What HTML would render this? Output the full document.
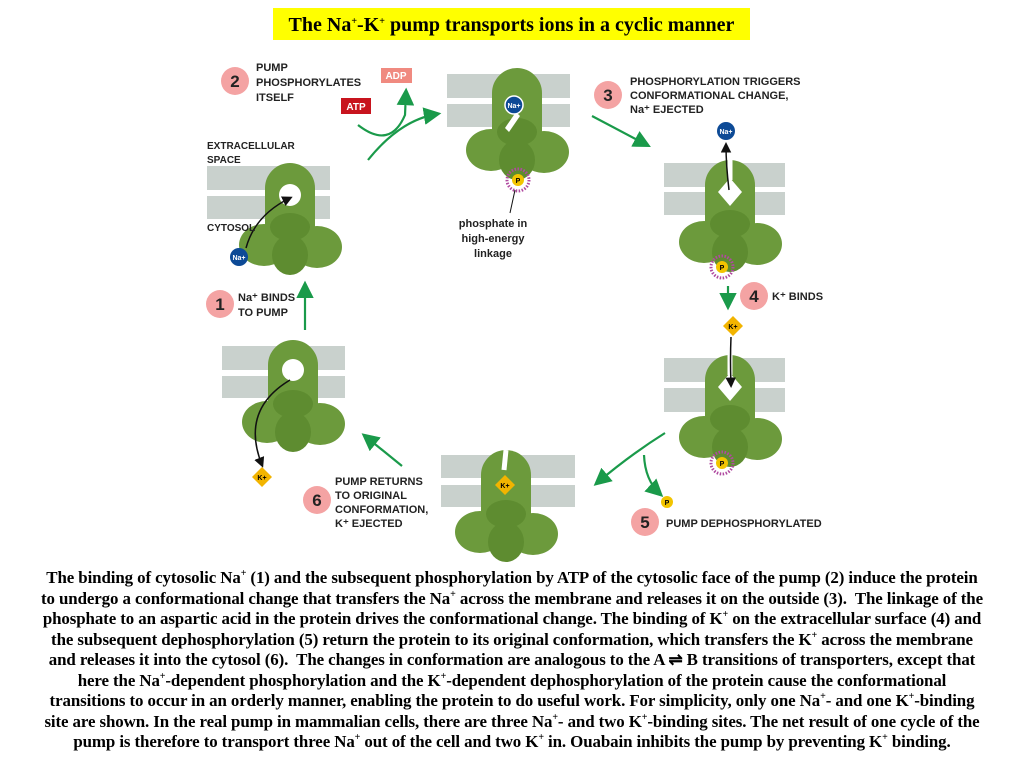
<!DOCTYPE html>
<html><head><meta charset="utf-8"><style>
body{margin:0;width:1024px;height:768px;background:#fff;position:relative;overflow:hidden;font-family:"Liberation Serif",serif}
.title{position:absolute;left:273px;top:8px;width:477px;height:32px;background:#ffff00;font-weight:bold;font-size:20px;text-align:center;line-height:34px;white-space:nowrap}
.para{position:absolute;left:0;top:568px;width:1024px;text-align:center;font-weight:bold;font-size:16.9px;line-height:20.5px;white-space:nowrap;letter-spacing:-0.1px}
sup{font-size:10px;line-height:0;vertical-align:0;position:relative;top:-7px}
svg{position:absolute;left:0;top:0}
.lb{font-family:"Liberation Sans",sans-serif;font-weight:bold;font-size:11px;fill:#222}
.num{font-family:"Liberation Sans",sans-serif;font-weight:bold;font-size:17px;fill:#222}
</style></head><body>
<div class="title">The Na<sup>+</sup>-K<sup>+</sup> pump transports ions in a cyclic manner</div>
<svg width="1024" height="768" viewBox="0 0 1024 768">
<defs>
<g id="prot">
<rect x="-25" y="0" width="50" height="95" rx="25" fill="#6c9a3c"/>
<ellipse cx="-26" cy="82" rx="25" ry="21" fill="#6c9a3c"/>
<ellipse cx="27" cy="84" rx="25" ry="21" fill="#6c9a3c"/>
<ellipse cx="0" cy="92" rx="18" ry="20" fill="#5e8c30"/>
<ellipse cx="0" cy="64" rx="20" ry="14" fill="#5e8c30"/>
</g>
<marker id="ag" markerWidth="8" markerHeight="8" refX="6" refY="4" orient="auto"><path d="M0,0 L8,4 L0,8z" fill="#1a9a4a"/></marker>
<marker id="ak" markerWidth="7" markerHeight="7" refX="5" refY="3.5" orient="auto"><path d="M0,0 L7,3.5 L0,7z" fill="#111"/></marker>
</defs>
<g fill="#c9d1cd">
<rect x="207" y="166" width="123" height="24"/><rect x="207" y="196" width="123" height="23"/>
<rect x="447" y="74" width="123" height="24"/><rect x="447" y="104" width="123" height="23"/>
<rect x="664" y="163" width="121" height="24"/><rect x="664" y="192" width="121" height="23"/>
<rect x="664" y="358" width="121" height="24"/><rect x="664" y="388" width="121" height="24"/>
<rect x="441" y="455" width="134" height="23"/><rect x="441" y="485" width="134" height="22"/>
<rect x="222" y="346" width="123" height="24"/><rect x="222" y="376" width="123" height="22"/>
</g>
<use href="#prot" x="290" y="163"/><circle cx="290" cy="195" r="11" fill="#fff"/>
<use href="#prot" x="517" y="68"/><path d="M505,128 L516,112 L520,116 L509,132z" fill="#fff"/>
<use href="#prot" x="730" y="160"/><path d="M730,178 L742,192 L730,206 L718,192z" fill="#fff"/><path d="M730,160 L730,180" stroke="#fff" stroke-width="5"/>
<use href="#prot" x="730" y="355"/><path d="M730,373 L742,387 L730,401 L718,387z" fill="#fff"/><path d="M730,355 L730,375" stroke="#fff" stroke-width="5"/>
<use href="#prot" x="506" y="450"/><path d="M506,450 L504,470" stroke="#fff" stroke-width="5"/>
<use href="#prot" x="293" y="340"/><circle cx="293" cy="370" r="11" fill="#fff"/>
<circle cx="514" cy="105" r="9" fill="#0d4a96" stroke="#fff" stroke-width="1.5"/><text x="514" y="108" font-size="7" fill="#fff" text-anchor="middle" font-family="Liberation Sans" font-weight="bold">Na+</text>
<circle cx="239" cy="257" r="9" fill="#0d4a96"/><text x="239" y="260" font-size="7" fill="#fff" text-anchor="middle" font-family="Liberation Sans" font-weight="bold">Na+</text>
<circle cx="726" cy="131" r="9" fill="#0d4a96"/><text x="726" y="134" font-size="7" fill="#fff" text-anchor="middle" font-family="Liberation Sans" font-weight="bold">Na+</text>
<g font-size="7" font-family="Liberation Sans" font-weight="bold" text-anchor="middle">
<path d="M733,316 L743,326 L733,336 L723,326z" fill="#f2b400"/><text x="733" y="329">K+</text>
<path d="M262,467 L272,477 L262,487 L252,477z" fill="#f2b400"/><text x="262" y="480">K+</text>
<path d="M505,475 L515,485 L505,495 L495,485z" fill="#f2b400"/><text x="505" y="488">K+</text>
</g>
<g font-size="7" font-family="Liberation Sans" font-weight="bold" text-anchor="middle">
<circle cx="518" cy="180" r="11" fill="none" stroke="#b04aa0" stroke-dasharray="1.5 1.5" stroke-width="3"/><circle cx="518" cy="180" r="6" fill="#f2c400"/><text x="518" y="183">P</text>
<circle cx="722" cy="267" r="11" fill="none" stroke="#b04aa0" stroke-dasharray="1.5 1.5" stroke-width="3"/><circle cx="722" cy="267" r="6" fill="#f2c400"/><text x="722" y="270">P</text>
<circle cx="722" cy="463" r="11" fill="none" stroke="#b04aa0" stroke-dasharray="1.5 1.5" stroke-width="3"/><circle cx="722" cy="463" r="6" fill="#f2c400"/><text x="722" y="466">P</text>
<circle cx="667" cy="502" r="6" fill="#f2c400"/><text x="667" y="505">P</text>
</g>
<path d="M246,248 Q255,215 290,198" stroke="#111" stroke-width="1.5" fill="none" marker-end="url(#ak)"/>
<path d="M729,190 Q726,165 726,145" stroke="#111" stroke-width="1.5" fill="none" marker-end="url(#ak)"/>
<path d="M731,337 Q730,360 731,385" stroke="#111" stroke-width="1.5" fill="none" marker-end="url(#ak)"/>
<path d="M290,380 Q240,410 262,465" stroke="#111" stroke-width="1.5" fill="none" marker-end="url(#ak)"/>
<path d="M515,190 L510,213" stroke="#111" stroke-width="1"/>
<g stroke="#1a9a4a" stroke-width="2.2" fill="none">
<path d="M368,160 Q400,120 437,114" marker-end="url(#ag)"/>
<path d="M358,125 Q390,150 405,115 L406,92" marker-end="url(#ag)"/>
<path d="M592,116 L647,145" marker-end="url(#ag)"/>
<path d="M728,286 L728,306" marker-end="url(#ag)"/>
<path d="M665,433 Q630,455 597,483" marker-end="url(#ag)"/>
<path d="M644,455 Q645,480 660,494" marker-end="url(#ag)"/>
<path d="M402,466 L365,436" marker-end="url(#ag)"/>
<path d="M305,330 L305,285" marker-end="url(#ag)"/>
</g>
<rect x="381" y="68" width="31" height="15" fill="#f08a80"/><text x="396" y="79" font-size="10" fill="#fff" font-weight="bold" font-family="Liberation Sans" text-anchor="middle">ADP</text>
<rect x="341" y="98" width="30" height="16" fill="#c8141e"/><text x="356" y="110" font-size="10" fill="#fff" font-weight="bold" font-family="Liberation Sans" text-anchor="middle">ATP</text>
<g fill="#f4a3a3">
<circle cx="235" cy="81" r="14"/><circle cx="608" cy="95" r="14"/><circle cx="754" cy="296" r="14"/>
<circle cx="645" cy="522" r="14"/><circle cx="317" cy="500" r="14"/><circle cx="220" cy="304" r="14"/>
</g>
<g class="num" text-anchor="middle">
<text x="235" y="87">2</text><text x="608" y="101">3</text><text x="754" y="302">4</text>
<text x="645" y="528">5</text><text x="317" y="506">6</text><text x="220" y="310">1</text>
</g>
<g class="lb">
<text x="256" y="71">PUMP</text><text x="256" y="86">PHOSPHORYLATES</text><text x="256" y="101">ITSELF</text>
<text x="630" y="85">PHOSPHORYLATION TRIGGERS</text><text x="630" y="99">CONFORMATIONAL CHANGE,</text><text x="630" y="113">Na⁺ EJECTED</text>
<text x="772" y="300">K⁺ BINDS</text>
<text x="666" y="527">PUMP DEPHOSPHORYLATED</text>
<text x="335" y="485">PUMP RETURNS</text><text x="335" y="499">TO ORIGINAL</text><text x="335" y="513">CONFORMATION,</text><text x="335" y="527">K⁺ EJECTED</text>
<text x="238" y="301">Na⁺ BINDS</text><text x="238" y="316">TO PUMP</text>
<text x="207" y="149" font-size="10">EXTRACELLULAR</text><text x="207" y="163" font-size="10">SPACE</text>
<text x="207" y="231" font-size="10">CYTOSOL</text>
</g>
<g font-family="Liberation Sans" font-weight="bold" font-size="11" fill="#222" text-anchor="middle">
<text x="493" y="227">phosphate in</text><text x="493" y="242">high-energy</text><text x="493" y="257">linkage</text>
</g>
</svg>
<div class="para">The binding of cytosolic Na<sup>+</sup> (1) and the subsequent phosphorylation by ATP of the cytosolic face of the pump (2) induce the protein<br>to undergo a conformational change that transfers the Na<sup>+</sup> across the membrane and releases it on the outside (3).&nbsp; The linkage of the<br>phosphate to an aspartic acid in the protein drives the conformational change. The binding of K<sup>+</sup> on the extracellular surface (4) and<br>the subsequent dephosphorylation (5) return the protein to its original conformation, which transfers the K<sup>+</sup> across the membrane<br>and releases it into the cytosol (6).&nbsp; The changes in conformation are analogous to the A ⇌ B transitions of transporters, except that<br>here the Na<sup>+</sup>-dependent phosphorylation and the K<sup>+</sup>-dependent dephosphorylation of the protein cause the conformational<br>transitions to occur in an orderly manner, enabling the protein to do useful work. For simplicity, only one Na<sup>+</sup>- and one K<sup>+</sup>-binding<br>site are shown. In the real pump in mammalian cells, there are three Na<sup>+</sup>- and two K<sup>+</sup>-binding sites. The net result of one cycle of the<br>pump is therefore to transport three Na<sup>+</sup> out of the cell and two K<sup>+</sup> in. Ouabain inhibits the pump by preventing K<sup>+</sup> binding.</div>
</body></html>
